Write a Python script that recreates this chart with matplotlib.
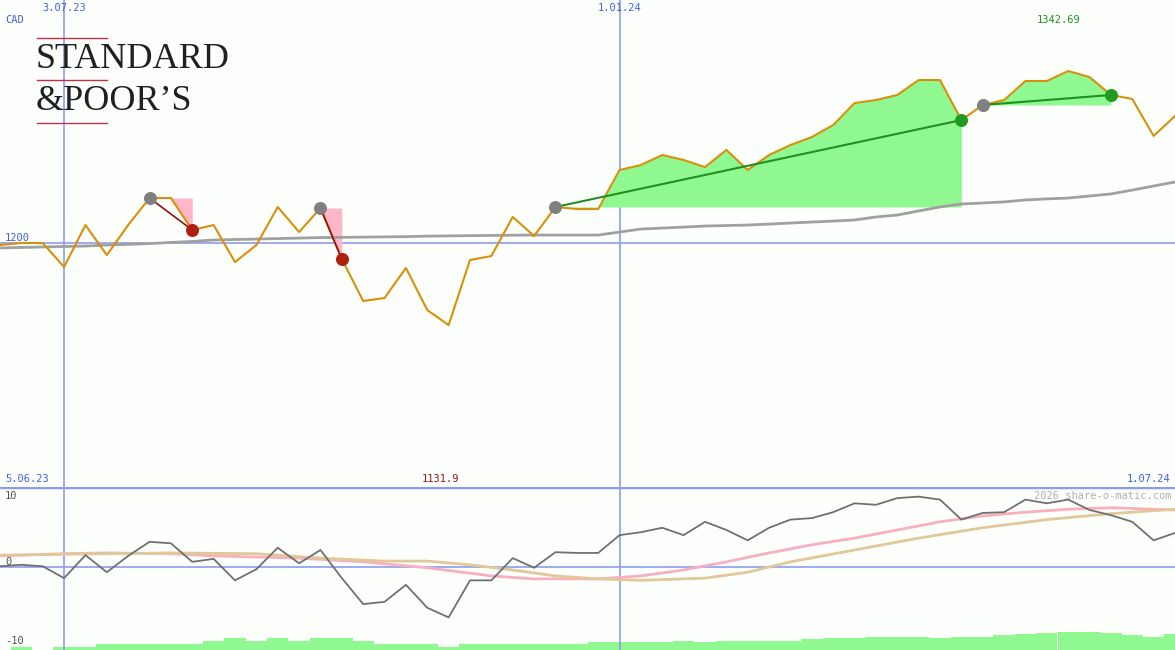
import matplotlib
matplotlib.use("Agg")
import matplotlib.pyplot as plt
import numpy as np

W, H = 1175, 650
weeks = np.arange(56)
price = [1198.3,1200,1200,1180.1,1214.9,1190.0,1214.9,1237.3,1237.3,1210.8,1214.9,1184.2,1198.3,1229.9,1209.1,
         1229.0,1186.7,1151.9,1154.4,1179.3,1144.4,1131.9,1185.9,1189.2,1221.6,1205.8,1229.9,1228.2,1228.2,1260.6,
         1264.7,1273.0,1268.9,1263.0,1277.2,1260.6,1273.0,1281.3,1287.9,1297.9,1316.1,1318.6,1322.8,1335.2,1335.2,
         1302.0,1314.5,1318.6,1334.4,1334.4,1342.69,1337.7,1322.8,1319.5,1288.8,1305.4]
ma = [1195.9,1196.3,1196.7,1197.1,1197.5,1198.3,1198.9,1199.5,1200.5,1201.3,1202.5,1202.9,1203.3,1203.7,1204.1,
      1204.5,1204.7,1204.9,1205.1,1205.3,1205.7,1205.9,1206.1,1206.3,1206.5,1206.6,1206.6,1206.6,1206.6,1209.1,
      1211.6,1212.4,1213.2,1214.1,1214.5,1214.9,1215.7,1216.6,1217.4,1218.2,1219.1,1221.6,1223.2,1226.6,1229.9,
      1232.4,1233.2,1234.1,1235.7,1236.6,1237.3,1239.0,1240.7,1243.9,1247.3,1250.6]
osc = [0.1,0.3,0.1,-1.5,1.6,-0.7,1.5,3.4,3.2,0.7,1.1,-1.8,-0.3,2.6,0.5,2.3,-1.5,-5.0,-4.7,-2.4,-5.5,-6.8,-1.8,-1.8,
       1.2,-0.1,2.0,1.9,1.9,4.3,4.7,5.3,4.3,6.1,5.0,3.6,5.3,6.4,6.6,7.4,8.6,8.4,9.3,9.5,9.1,6.4,7.3,7.4,9.1,8.6,9.1,
       7.7,7.0,6.1,3.6,4.6]
pink_idx = [0,3,5,8,10,14,17,20,23,25,28,30,32,34,36,38,40,42,44,46,48,50,52,55]
pink_val = [1.5,1.8,1.9,1.8,1.5,1.2,0.7,-0.1,-1.2,-1.6,-1.6,-1.2,-0.4,0.7,1.9,3.0,3.9,5.0,6.1,6.9,7.4,7.8,8.0,7.7]
tan_idx = [0,5,8,12,15,18,20,22,24,26,28,30,33,35,37,40,43,46,49,52,55]
tan_val = [1.6,1.8,1.9,1.8,1.2,0.8,0.8,0.3,-0.4,-1.2,-1.6,-1.8,-1.5,-0.7,0.7,2.3,3.9,5.3,6.4,7.2,7.8]
volume = [0,3,0,3,3,6,6,6,6,6,9,12,9,12,9,12,12,9,6,6,6,3,6,6,6,6,6,6,8,8,8,8,9,8,9,9,9,9,11,12,12,13,13,13,12,
          13,13,15,16,17,18,18,17,15,13,16]
# trades: (entry week, exit week)
losses = [(7, 9), (15, 16)]
wins = [(26, 45), (46, 52)]
date_labels = ["3.07.23", "1.01.24"]
date_weeks = [3, 29]

BLUE = "#8c9cf0"
fig = plt.figure(figsize=(W/100, H/100), dpi=100)
fig.patch.set_facecolor("#fdfffd")
top = fig.add_axes([0, 163/H, 1, 487/H])
bot = fig.add_axes([0, 0, 1, 163/H])
for ax in (top, bot):
    ax.set_facecolor("#fdfffd")
    ax.set_xlim(0, 55)
    ax.set_xticks([]); ax.set_yticks([])
    for s in ax.spines.values():
        s.set_visible(False)
    for wk in date_weeks:
        ax.axvline(wk, color=BLUE, lw=1.2, zorder=1)
top.set_ylim(997.6, 1401.6)
bot.set_ylim(-11.2, 10.8)

top.axhline(1200, color=BLUE, lw=1.2, zorder=1)
bot.axhline(0, color=BLUE, lw=1.2, zorder=1)
bot.axhline(10.8, color=BLUE, lw=2.5, zorder=1)

x = weeks.astype(float)
p = np.array(price)
for a, b in losses:
    top.fill_between(x[a:b+1], p[a:b+1], p[a], color="#ffb6c8", lw=0, zorder=2)
for a, b in wins:
    top.fill_between(x[a:b+1], p[a:b+1], p[a], color="#90f890", lw=0, zorder=2)
top.plot(x, ma, color="#a0a0a0", lw=2, zorder=3)
top.plot(x, price, color="#d8900a", lw=1.5, zorder=4)
for a, b in losses:
    top.plot([a, b], [p[a], p[b]], color="#901010", lw=1.2, zorder=5)
    top.scatter([a], [p[a]], s=70, color="#808080", zorder=6)
    top.scatter([b], [p[b]], s=70, color="#b02010", zorder=6)
for a, b in wins:
    top.plot([a, b], [p[a], p[b]], color="#209020", lw=1.5, zorder=5)
    top.scatter([a], [p[a]], s=70, color="#808080", zorder=6)
    top.scatter([b], [p[b]], s=70, color="#209a20", zorder=6)

vax = bot.twinx()
vax.set_ylim(0, 163); vax.set_yticks([])
for s in vax.spines.values():
    s.set_visible(False)
vax.bar(x, volume, width=1.0, color="#90f890", zorder=1)
bot.set_zorder(vax.get_zorder() + 1); bot.patch.set_visible(False)
bot.plot(pink_idx, pink_val, color="#f8b0c0", lw=2)
bot.plot(tan_idx, tan_val, color="#e0c898", lw=2)
bot.plot(x, osc, color="#707070", lw=1.3)

def t(px, py, s, c, ha="left", **kw):
    fig.text(px/W, 1-py/H, s, color=c, ha=ha, va="center", family="DejaVu Sans Mono", fontsize=7.5, **kw)
t(5, 20, "CAD", "#4060e0")
for wk, lab in zip(date_weeks, date_labels):
    t(wk*W/55, 8, lab, "#4060e0", ha="center")
t(5, 238, "1200", "#4060e0")
t(1059, 20, "1342.69", "#209020", ha="center")
t(5, 479, "5.06.23", "#4060e0")
t(440, 479, "1131.9", "#a01010", ha="center")
t(1170, 479, "1.07.24", "#4060e0", ha="right")
t(5, 496, "10", "#505050")
t(5, 562, "0", "#505050")
t(5, 641, "-10", "#505050")
t(1172, 496, "2026 share-o-matic.com", "#b0b0b0", ha="right")

fig.text(36/W, 1-59/H, "STANDARD", family="Liberation Serif", fontsize=26, color="#202020", va="center")
fig.text(36/W, 1-101/H, "&POOR\u2019S", family="Liberation Serif", fontsize=26, color="#202020", va="center")
for yy in (38, 80, 123):
    fig.add_artist(plt.Line2D([37/W, 107/W], [1-yy/H]*2, color="#c03040", lw=1))

fig.savefig("out.png", dpi=100, facecolor=fig.get_facecolor())
